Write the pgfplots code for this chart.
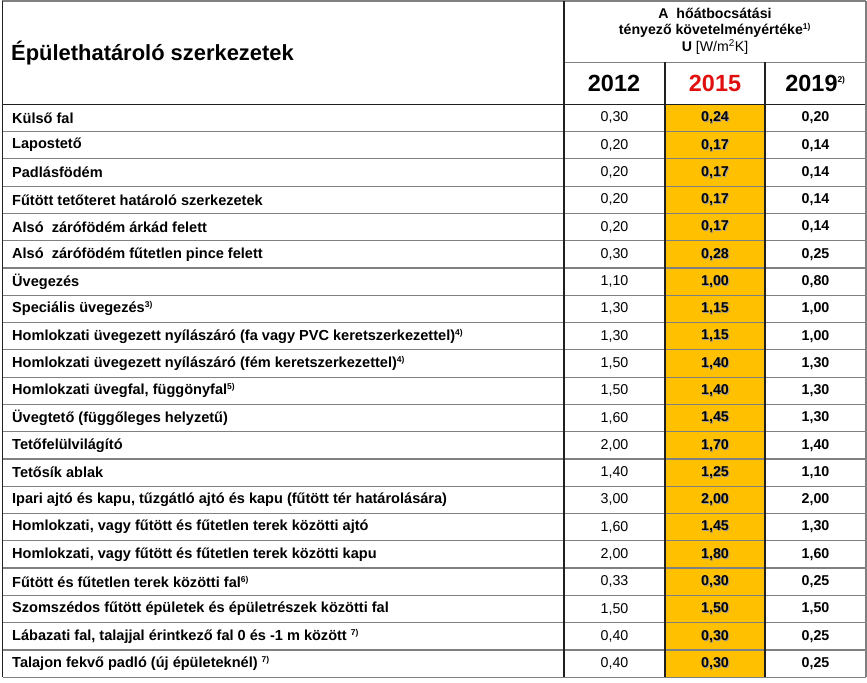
\documentclass[border=0pt]{standalone}
\usepackage{fontspec}
\setmainfont{Liberation Sans}
\usepackage{pgfplots}
\usepackage{pgfplotstable}
\pgfplotsset{compat=1.18}
\definecolor{cellorange}{HTML}{FFC000}
\definecolor{hdrred}{HTML}{E01010}
\definecolor{rowline}{HTML}{808080}
\definecolor{colline}{HTML}{202020}
\newcommand{\sups}[1]{\textsuperscript{\fontsize{8.5}{9}\selectfont #1}}

\pgfplotstableread[col sep=semicolon]{
label;a;b;c
Külső fal;0.30;0.24;0.20
Lapostető;0.20;0.17;0.14
Padlásfödém;0.20;0.17;0.14
Fűtött tetőteret határoló szerkezetek;0.20;0.17;0.14
Alsó~ zárófödém árkád felett;0.20;0.17;0.14
Alsó~ zárófödém fűtetlen pince felett;0.30;0.28;0.25
Üvegezés;1.10;1.00;0.80
Speciális üvegezés\sups{3)};1.30;1.15;1.00
Homlokzati üvegezett nyílászáró (fa vagy PVC keretszerkezettel)\sups{4)};1.30;1.15;1.00
Homlokzati üvegezett nyílászáró (fém keretszerkezettel)\sups{4)};1.50;1.40;1.30
Homlokzati üvegfal, függönyfal\sups{5)};1.50;1.40;1.30
Üvegtető (függőleges helyzetű);1.60;1.45;1.30
Tetőfelülvilágító;2.00;1.70;1.40
Tetősík ablak;1.40;1.25;1.10
Ipari ajtó és kapu, tűzgátló ajtó és kapu (fűtött tér határolására);3.00;2.00;2.00
Homlokzati, vagy fűtött és fűtetlen terek közötti ajtó;1.60;1.45;1.30
Homlokzati, vagy fűtött és fűtetlen terek közötti kapu;2.00;1.80;1.60
Fűtött és fűtetlen terek közötti fal\sups{6)};0.33;0.30;0.25
Szomszédos fűtött épületek és épületrészek közötti fal;1.50;1.50;1.50
Lábazati fal, talajjal érintkező fal 0 és -1 m között \sups{7)};0.40;0.30;0.25
Talajon fekvő padló (új épületeknél) \sups{7)};0.40;0.30;0.25
}\datatable

\begin{document}
\begin{tikzpicture}
\begin{axis}[
  scale only axis, width=867bp, height=683bp,
  xmin=0, xmax=867, ymin=0, ymax=683, y dir=reverse,
  hide axis, clip=false,
  /pgf/number format/assume math mode=true,
  /pgf/number format/.cd, fixed, fixed zerofill, precision=2, use comma,
]
% background
\fill[white] (axis cs:0,0) rectangle (axis cs:867,683);
% highlighted column
\fill[cellorange] (axis cs:665,104.3) rectangle (axis cs:765,677.2);
% row lines
\pgfplotsinvokeforeach{1,...,20}{
  \draw[rowline, line width=1.2bp] (axis cs:3,{104.3+27.28*#1}) -- (axis cs:866,{104.3+27.28*#1});
}
\draw[rowline, line width=1.2bp] (axis cs:3,677.2) -- (axis cs:866,677.2);
\draw[colline, line width=1.2bp] (axis cs:3,104.3) -- (axis cs:866,104.3);
\draw[rowline, line width=1.2bp] (axis cs:2,1) -- (axis cs:866,1);
\draw[rowline, line width=1.2bp] (axis cs:564,62.5) -- (axis cs:866,62.5);
% column lines
\draw[colline, line width=1.2bp] (axis cs:2.5,1) -- (axis cs:2.5,677.2);
\draw[colline, line width=1.2bp] (axis cs:564,1) -- (axis cs:564,677.2);
\draw[colline, line width=1.2bp] (axis cs:665,62.5) -- (axis cs:665,677.2);
\draw[colline, line width=1.2bp] (axis cs:765,62.5) -- (axis cs:765,677.2);
\draw[rowline, line width=1.2bp] (axis cs:866,1) -- (axis cs:866,677.2);

% row labels
\addplot[draw=none, mark=none, point meta=explicit symbolic, nodes near coords,
  nodes near coords align={anchor=west},
  every node near coord/.append style={font=\bfseries\fontsize{14.6}{16}\selectfont, inner sep=0pt, text=black}]
  table[x expr=12, y expr={117.9+27.28*\coordindex}, meta=label] {\datatable};
% 2012
\addplot[draw=none, mark=none, point meta=\thisrow{a}, nodes near coords,
  nodes near coords align={anchor=center},
  every node near coord/.append style={font=\fontsize{14.3}{15}\selectfont, inner sep=0pt, text=black}]
  table[x expr=614.5, y expr={117.9+27.28*\coordindex}, y index=1] {\datatable};
% 2015 shadow
\addplot[draw=none, mark=none, point meta=\thisrow{b}, nodes near coords,
  nodes near coords align={anchor=center},
  every node near coord/.append style={font=\bfseries\fontsize{14.3}{15}\selectfont, inner sep=0pt, text=black!40, xshift=1bp, yshift=-1bp}]
  table[x expr=715, y expr={117.9+27.28*\coordindex}, y index=2] {\datatable};
% 2015
\addplot[draw=none, mark=none, point meta=\thisrow{b}, nodes near coords,
  nodes near coords align={anchor=center},
  every node near coord/.append style={font=\bfseries\fontsize{14.3}{15}\selectfont, inner sep=0pt, text=black}]
  table[x expr=715, y expr={117.9+27.28*\coordindex}, y index=2] {\datatable};
% 2019
\addplot[draw=none, mark=none, point meta=\thisrow{c}, nodes near coords,
  nodes near coords align={anchor=center},
  every node near coord/.append style={font=\bfseries\fontsize{14.3}{15}\selectfont, inner sep=0pt, text=black}]
  table[x expr=815.5, y expr={117.9+27.28*\coordindex}, y index=3] {\datatable};

% header
\node[anchor=west, inner sep=0pt, font=\bfseries\fontsize{22}{24}\selectfont] at (axis cs:11,53) {Épülethatároló szerkezetek};
\node[inner sep=0pt, font=\bfseries\fontsize{14.2}{16}\selectfont] at (axis cs:715,13.5) {A~ hőátbocsátási};
\node[inner sep=0pt, font=\bfseries\fontsize{14.2}{16}\selectfont] at (axis cs:715,30.5) {tényező követelményértéke\sups{1)}};
\node[inner sep=0pt, font=\fontsize{14.2}{16}\selectfont] at (axis cs:715,47) {\textbf{U} [W/m\textsuperscript{2}K]};
\node[inner sep=0pt, font=\bfseries\fontsize{23.5}{25}\selectfont] at (axis cs:614,83.5) {2012};
\node[inner sep=0pt, font=\bfseries\fontsize{23.5}{25}\selectfont, text=hdrred] at (axis cs:715,83.5) {2015};
\node[inner sep=0pt, font=\bfseries\fontsize{23.5}{25}\selectfont] at (axis cs:815.5,83.5) {2019\sups{2)}};
\end{axis}
\end{tikzpicture}
\end{document}
